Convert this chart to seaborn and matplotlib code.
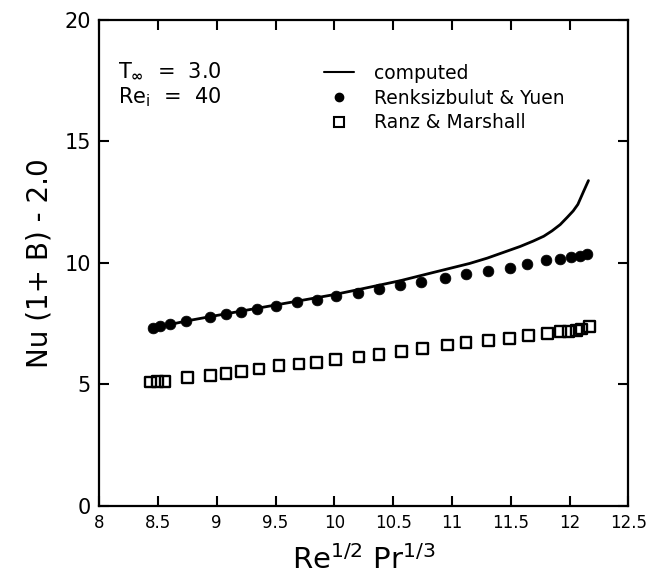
import seaborn as sns
import matplotlib.pyplot as plt
import matplotlib.lines as mlines

# Data
computed_x = [8.46, 8.75, 9.0, 9.5, 10.0, 10.2, 10.56, 10.85, 11.15, 11.30,
              11.44, 11.58, 11.69, 11.78, 11.85, 11.92, 11.98, 12.03, 12.07,
              12.12, 12.16]
computed_y = [7.32, 7.62, 7.84, 8.27, 8.70, 8.90, 9.27, 9.62, 9.98, 10.20,
              10.44, 10.68, 10.90, 11.10, 11.32, 11.58, 11.88, 12.14, 12.41,
              12.96, 13.39]

ry_x = [8.46, 8.52, 8.60, 8.74, 8.94, 9.08, 9.21, 9.34, 9.50, 9.68, 9.85,
        10.01, 10.20, 10.38, 10.56, 10.74, 10.94, 11.12, 11.31, 11.49, 11.64,
        11.80, 11.92, 12.01, 12.09, 12.15]
ry_y = [7.32, 7.39, 7.47, 7.60, 7.77, 7.88, 7.99, 8.11, 8.24, 8.39, 8.49,
        8.65, 8.78, 8.94, 9.09, 9.23, 9.40, 9.54, 9.68, 9.79, 9.96,
        10.11, 10.18, 10.24, 10.29, 10.35]

rm_x = [8.44, 8.50, 8.56, 8.75, 8.95, 9.08, 9.21, 9.36, 9.53, 9.70, 9.85,
        10.01, 10.21, 10.38, 10.57, 10.75, 10.96, 11.12, 11.31, 11.49, 11.65,
        11.81, 11.92, 11.99, 12.06, 12.10, 12.17]
rm_y = [5.10, 5.12, 5.13, 5.28, 5.36, 5.45, 5.53, 5.64, 5.77, 5.84, 5.92,
        6.02, 6.13, 6.24, 6.37, 6.48, 6.62, 6.72, 6.80, 6.90, 7.03,
        7.09, 7.18, 7.19, 7.22, 7.28, 7.39]

x_ticks = [8, 8.5, 9, 9.5, 10, 10.5, 11, 11.5, 12, 12.5]
x_ticklabels = ['8', '8.5', '9', '9.5', '10', '10.5', '11', '11.5', '12', '12.5']
y_ticks = [0, 5, 10, 15, 20]

sns.set_style('ticks')
plt.rcParams['font.family'] = ['DejaVu Sans']
plt.rcParams['text.color'] = 'black'
plt.rcParams['axes.labelcolor'] = 'black'
plt.rcParams['xtick.color'] = 'black'
plt.rcParams['ytick.color'] = 'black'

fig = plt.figure(figsize=(6.56, 5.8), dpi=100)
ax = fig.add_axes([0.151, 0.1276, 0.807, 0.838])

sns.lineplot(x=computed_x, y=computed_y, ax=ax, color='black', linewidth=2.0,
             sort=False, estimator=None)
sns.scatterplot(x=ry_x, y=ry_y, ax=ax, color='black', marker='o', s=60,
                edgecolor='black', linewidth=0.5)
sns.scatterplot(x=rm_x, y=rm_y, ax=ax, marker='s', s=60, facecolors='none',
                edgecolor='black', linewidth=1.7)

ax.set_xlim(8, 12.5)
ax.set_ylim(0, 20)
ax.set_xticks(x_ticks)
ax.set_xticklabels(x_ticklabels, fontsize=12)
ax.set_yticks(y_ticks)
ax.tick_params(axis='y', labelsize=15)
ax.tick_params(direction='in', length=7, width=1.5, top=True, right=True, pad=6)
for sp in ax.spines.values():
    sp.set_linewidth(1.6)
    sp.set_color('black')

ax.set_xlabel(r'Re$^{\mathrm{1/2}}$ Pr$^{\mathrm{1/3}}$', fontsize=21, labelpad=9)
ax.set_ylabel('Nu (1+ B) - 2.0', fontsize=20, labelpad=8)

ax.text(0.035, 0.883, r'T$_{\mathbf{\infty}}$  =  3.0', transform=ax.transAxes,
        fontsize=15, va='baseline')
ax.text(0.035, 0.829, r'Re$_{\mathrm{i}}$  =  40', transform=ax.transAxes,
        fontsize=15, va='baseline')

handles = [
    mlines.Line2D([], [], color='black', linewidth=1.5),
    mlines.Line2D([], [], color='black', marker='o', linestyle='none', markersize=6),
    mlines.Line2D([], [], color='black', marker='s', linestyle='none', markersize=7,
                  markerfacecolor='none', markeredgewidth=1.5),
]
labels = ['computed', 'Renksizbulut & Yuen', 'Ranz & Marshall']
ax.legend(handles, labels, loc='upper left', bbox_to_anchor=(0.41, 0.925),
          frameon=False, fontsize=13.5, handlelength=1.6, handletextpad=1.1,
          labelspacing=0.3, borderaxespad=0)

fig.savefig('out.png', dpi=100)
